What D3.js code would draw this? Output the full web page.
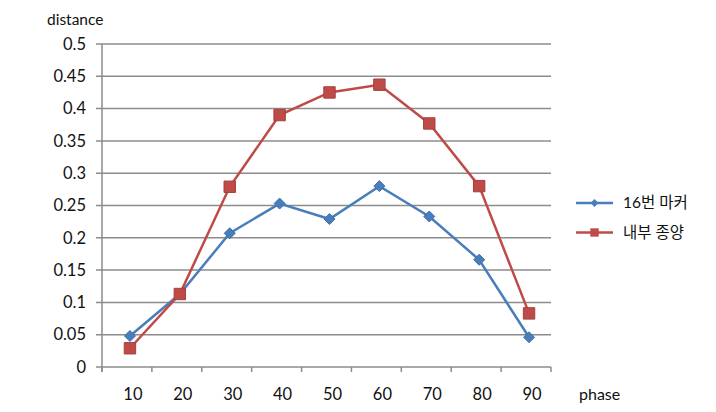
<!DOCTYPE html>
<html><head><meta charset="utf-8">
<script src="https://cdn.jsdelivr.net/npm/d3@7"></script>
<style>body{margin:0;background:#fff}svg{display:block}text{font-family:Lato,"Noto Sans CJK KR",sans-serif;fill:#111}</style>
</head><body><svg id="c" width="716" height="412"></svg>
<script>
const categories = ["10","20","30","40","50","60","70","80","90"];
const seriesNames = ["16번 마커","내부 종양"];
const marker16 = [0.048,0.113,0.207,0.253,0.229,0.280,0.233,0.166,0.046];
const tumor = [0.029,0.113,0.279,0.390,0.425,0.437,0.377,0.280,0.083];
const yTicks = [0,0.05,0.1,0.15,0.2,0.25,0.3,0.35,0.4,0.45,0.5];
const colors = ["#4a7ebb","#be4b48"];

const svg = d3.select("#c");
const x = d3.scaleBand().domain(categories).range([102,551]);
const y = d3.scaleLinear().domain([0,0.5]).range([367,44]);
const off = 3;
const px = c => x(c) + x.bandwidth()/2 + off;

svg.append("g").selectAll("line").data(yTicks).join("line")
  .attr("x1",96).attr("x2",551).attr("y1",d=>y(d)).attr("y2",d=>y(d))
  .attr("stroke","#8c8c8c").attr("stroke-width",1.5);
svg.append("line").attr("x1",102).attr("x2",102).attr("y1",y(0.5)).attr("y2",y(0)+5)
  .attr("stroke","#8c8c8c").attr("stroke-width",1.5);
const bounds = categories.map(c=>x(c)).concat([x.range()[1]]);
svg.append("g").selectAll("line").data(bounds).join("line")
  .attr("x1",d=>d).attr("x2",d=>d).attr("y1",y(0)).attr("y2",y(0)+5)
  .attr("stroke","#8c8c8c").attr("stroke-width",1.5);
svg.append("g").selectAll("text").data(yTicks).join("text")
  .attr("x",86).attr("y",d=>y(d)).attr("dy","0.35em").attr("text-anchor","end")
  .attr("font-size",16.5).text(d=>String(d));
svg.append("g").selectAll("text").data(categories).join("text")
  .attr("x",c=>px(c)+3).attr("y",394).attr("dy","0.35em").attr("text-anchor","middle")
  .attr("font-size",16.5).text(d=>d);
svg.append("text").attr("x",47).attr("y",20).attr("dy","0.35em").attr("font-size",15.5).text("distance");
svg.append("text").attr("x",579).attr("y",394).attr("dy","0.35em").attr("font-size",16).text("phase");

const line = d3.line().x((d,i)=>px(categories[i])).y(d=>y(d));
[marker16, tumor].forEach((vals,si)=>{
  svg.append("path").datum(vals).attr("d",line).attr("fill","none")
    .attr("stroke",colors[si]).attr("stroke-width",2.5);
});
const diamondType = {draw(ctx,size){const r=Math.sqrt(size)/2*1.0;ctx.moveTo(0,-r);ctx.lineTo(r,0);ctx.lineTo(0,r);ctx.lineTo(-r,0);ctx.closePath();}};
const diamond = d3.symbol().type(diamondType).size(121);
const square = d3.symbol().type(d3.symbolSquare).size(130);
svg.append("g").selectAll("path").data(marker16).join("path")
  .attr("d",diamond).attr("transform",(d,i)=>`translate(${px(categories[i])},${y(d)})`)
  .attr("fill",colors[0]).attr("stroke","#3f6fa8").attr("stroke-width",1);
svg.append("g").selectAll("path").data(tumor).join("path")
  .attr("d",square).attr("transform",(d,i)=>`translate(${px(categories[i])},${y(d)})`)
  .attr("fill",colors[1]).attr("stroke","#a63f3c").attr("stroke-width",1);

const lg = svg.append("g");
seriesNames.forEach((n,i)=>{
  const ly = 203 + i*29.5;
  lg.append("line").attr("x1",576).attr("x2",613).attr("y1",ly).attr("y2",ly)
    .attr("stroke",colors[i]).attr("stroke-width",2.5);
  lg.append("path").attr("d", i===0?d3.symbol().type(diamondType).size(64)():d3.symbol().type(d3.symbolSquare).size(70)())
    .attr("transform",`translate(594.5,${ly})`).attr("fill",colors[i]);
  lg.append("text").attr("x",623).attr("y",ly).attr("dy","0.35em").attr("font-size",15.5).text(n);
});
</script></body></html>
